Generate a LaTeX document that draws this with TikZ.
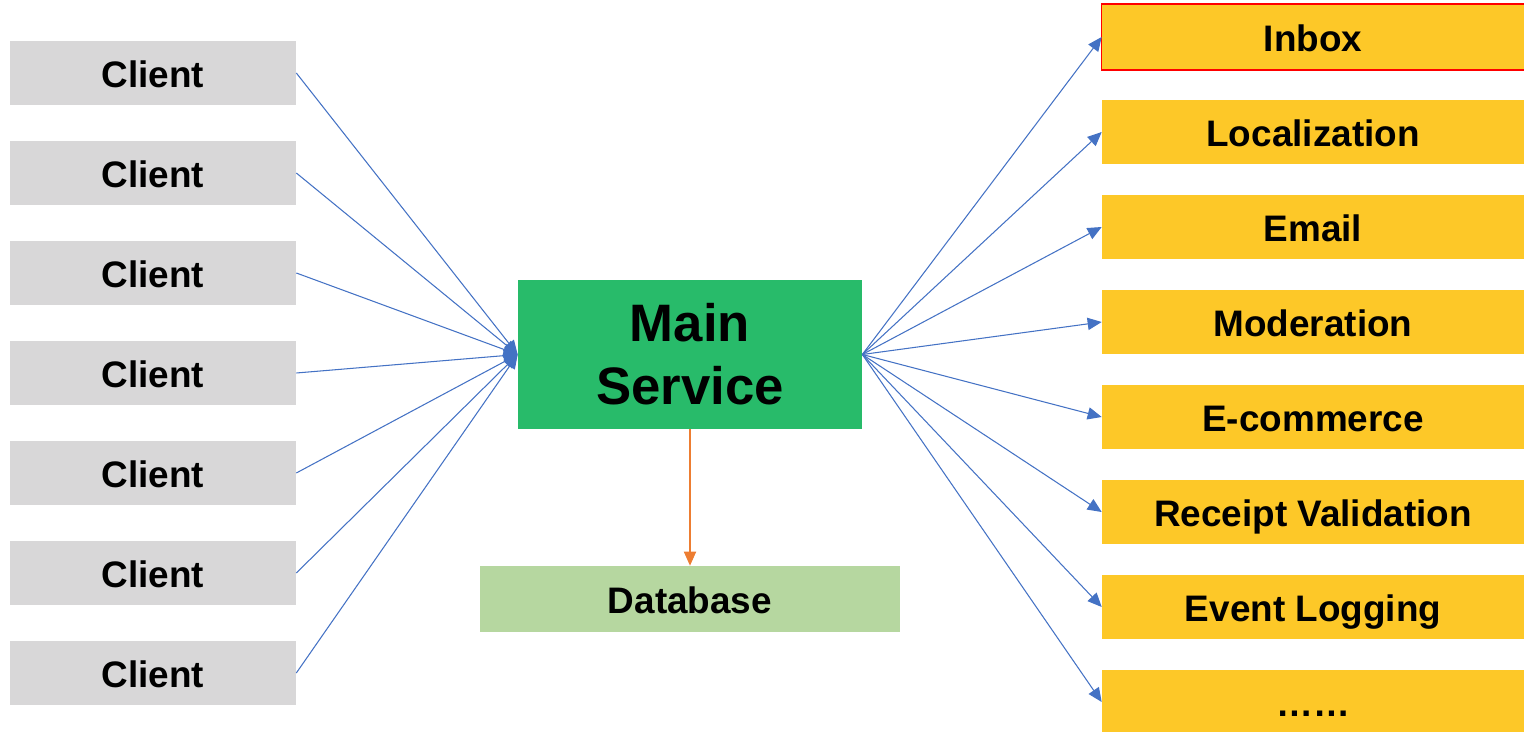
\documentclass[tikz,border=0pt]{standalone}
\usepackage{fontspec}
\setmainfont{Liberation Sans}
\usetikzlibrary{arrows.meta}
\definecolor{clientgray}{HTML}{D8D7D8}
\definecolor{mainGreen}{HTML}{28BB6A}
\definecolor{dbGreen}{HTML}{B6D7A0}
\definecolor{svcYellow}{HTML}{FDC828}
\definecolor{linkBlue}{HTML}{4472C4}
\definecolor{dbOrange}{HTML}{ED7D31}

\begin{document}
\begin{tikzpicture}[x=0.02cm,y=-0.02cm,font=\fontsize{21}{25}\selectfont\bfseries,
  box/.style={inner sep=0pt,minimum height=1.28cm,text height=17pt,text depth=0pt},
  client/.style={box,fill=clientgray,minimum width=5.72cm},
  svc/.style={box,fill=svcYellow,minimum width=8.44cm},
  link/.style={draw=linkBlue,line width=0.6pt,-{Triangle[length=8pt,width=7pt]}},
  >={Triangle[length=8pt,width=7pt]}]
\useasboundingbox (0,0) rectangle (1524,732);
% clients on the left
\foreach \i in {0,...,6}
  \node[client] (c\i) at (153,73+100*\i) {Client};
% main service and its store
\node[fill=mainGreen,minimum width=6.88cm,minimum height=2.98cm,align=center,
  font=\fontsize{30}{36}\selectfont\bfseries] (ms) at (690,354.5) {Main\\Service};
\node[box,fill=dbGreen,minimum width=8.4cm,minimum height=1.32cm] (db) at (690,599) {Database};
% downstream services
\foreach \i/\t in {0/Inbox,1/Localization,2/Email,3/Moderation,4/E-commerce,
  5/Receipt Validation,6/Event Logging,7/……}
  \node[svc] (s\i) at (1313,37+95*\i) {\t};
\draw[red,line width=0.8pt] ([yshift=-0.4pt]s0.south west) rectangle ([yshift=0.4pt]s0.north east);
% connectors
\foreach \i in {0,...,6}
  \draw[link] (c\i.east) -- (ms.west);
\foreach \i in {0,...,7}
  \draw[link] (ms.east) -- (s\i.west);
\draw[dbOrange,line width=0.6pt,->] (ms.south) -- (db.north);
\end{tikzpicture}
\end{document}
